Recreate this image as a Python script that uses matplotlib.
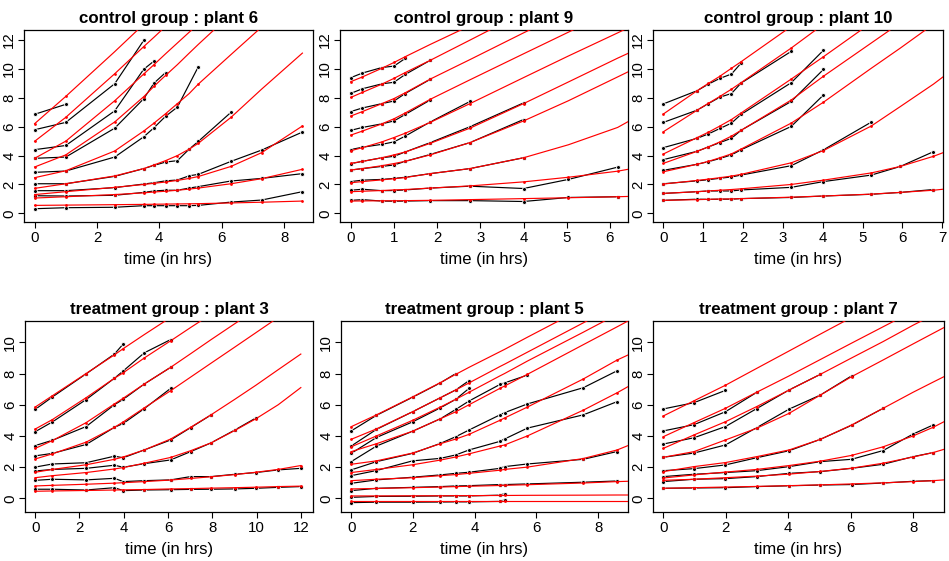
import matplotlib
matplotlib.use("Agg")
import matplotlib.pyplot as plt

plt.rcParams['font.family'] = ['Liberation Sans', 'DejaVu Sans']

# ---------------- control group : plant 6 ----------------
p6_time = [0, 1.0, 2.57, 3.5, 3.83, 4.2, 4.58, 4.96, 5.25, 6.3, 7.28, 8.59]
p6_fit_time = p6_time
p6_obs = [
    [6.86, 7.55],
    [5.79, 6.3, 8.98, 11.98],
    [4.41, 4.7, 7.1, 9.98, 10.55],
    [3.81, 3.9, 5.9, 7.94, 9.02, 9.75],
    [2.84, 2.93, 3.9, 5.3, 5.93, 6.72, 7.36, None, 10.15],
    [2.05, 2.05, 2.56, 3.1, 3.32, 3.55, 3.65, 4.45, 4.98, 7.0],
    [1.57, 1.57, 1.78, 2.03, 2.12, 2.25, 2.31, 2.6, 2.7, 3.6, 4.38, 5.63],
    [1.22, 1.2, 1.25, 1.45, 1.55, 1.6, 1.6, 1.75, 1.85, 2.24, 2.42, 2.75],
    [0.32, 0.39, 0.42, 0.53, 0.53, 0.53, 0.53, 0.53, 0.55, 0.78, 0.92, 1.5],
]
p6_fit = [
    [6.21, 8.1, 11.2, 13.1],
    [4.99, 6.65, 9.67, 11.55, 12.2, 12.95],
    [3.81, 5.0, 7.8, 9.65, 10.3, 11.05, 11.8, 12.55, 13.1],
    [3.21, 4.05, 6.33, 8.08, 8.8, 9.55, 10.3, 11.1, 11.7, 13.8],
    [2.47, 2.95, 4.32, 5.7, 6.25, 6.9, 7.6, 8.3, 8.95, 11.0, 12.9],
    [1.73, 2.05, 2.59, 3.1, 3.35, 3.65, 4.0, 4.45, 4.85, 6.65, 8.6, 11.1],
    [1.3, 1.5, 1.8, 2.0, 2.08, 2.17, 2.28, 2.42, 2.55, 3.25, 4.2, 6.05],
    [1.06, 1.15, 1.3, 1.42, 1.48, 1.53, 1.6, 1.68, 1.75, 2.05, 2.4, 3.05],
    [0.55, 0.57, 0.6, 0.62, 0.63, 0.64, 0.65, 0.66, 0.67, 0.72, 0.77, 0.85],
]

# ---------------- control group : plant 9 ----------------
p9_time = [0, 0.27, 0.72, 1.0, 1.26, 1.84, 2.76, 4.0, 5.04, 6.18]
p9_fit_time = p9_time + [6.42]
p9_obs = [
    [9.4, 9.72, 10.1, 10.2, 10.73],
    [8.31, 8.63, 8.97, 9.08, 9.62, 10.6],
    [7.05, 7.3, 7.6, 7.78, 8.3, 9.28],
    [5.75, 5.95, 6.2, 6.4, 6.85, 7.85],
    [4.42, 4.58, 4.78, 4.95, 5.35, 6.33, 7.75],
    [3.44, 3.6, 3.85, 3.95, 4.25, 4.9, 6.0, 7.65],
    [3.0, 3.1, 3.25, 3.35, 3.6, 4.08, 4.9, 6.5],
    [2.2, 2.3, 2.35, 2.42, 2.5, 2.75, 3.1, 3.85],
    [1.6, 1.67, 1.57, 1.58, 1.62, 1.75, 1.88, 1.72, 2.35, 3.2],
    [0.9, 0.95, 0.85, 0.84, 0.85, 0.88, 0.88, 0.82, 1.1, 1.15],
]
p9_fit = [
    [9.12, 9.45, 10.05, 10.45, 10.85, 11.7, 13.0],
    [8.03, 8.38, 8.95, 9.35, 9.75, 10.6, 12.0, 13.9],
    [6.74, 7.05, 7.6, 7.95, 8.35, 9.3, 10.65, 12.5, 14.0],
    [5.42, 5.7, 6.2, 6.55, 6.95, 7.9, 9.25, 11.05, 12.55, 14.2],
    [4.34, 4.55, 4.95, 5.25, 5.55, 6.3, 7.6, 9.4, 10.9, 12.5, 12.85],
    [3.46, 3.6, 3.85, 4.05, 4.25, 4.85, 5.9, 7.6, 9.1, 10.75, 11.08],
    [3.0, 3.1, 3.3, 3.45, 3.6, 4.05, 4.9, 6.4, 7.8, 9.45, 9.8],
    [2.12, 2.2, 2.32, 2.4, 2.48, 2.75, 3.1, 3.85, 4.75, 5.95, 6.35],
    [1.5, 1.53, 1.58, 1.62, 1.65, 1.75, 1.9, 2.18, 2.5, 2.92, 3.05],
    [0.85, 0.86, 0.87, 0.87, 0.88, 0.9, 0.95, 1.02, 1.08, 1.15, 1.17],
]

# ---------------- control group : plant 10 ----------------
p10_time = [0, 0.85, 1.13, 1.42, 1.71, 1.95, 3.21, 4.02, 5.22, 5.95, 6.78]
p10_fit_time = p10_time + [7.02]
p10_obs = [
    [7.58, 8.5, 8.95, 9.35, 9.65, 10.4],
    [6.3, 7.15, 7.6, 8.05, 8.3, 9.02, 11.22],
    [4.55, 5.2, 5.5, 5.88, 6.25, 6.85, 9.05, 11.3],
    [3.72, 4.3, 4.6, 4.9, 5.2, 5.75, 7.75, 9.97],
    [2.98, 3.4, 3.58, 3.8, 4.05, 4.4, 6.02, 8.2],
    [2.05, 2.25, 2.33, 2.43, 2.52, 2.65, 3.3, 4.4, 6.32],
    [1.38, 1.5, 1.55, 1.55, 1.55, 1.62, 1.8, 2.2, 2.65, 3.25, 4.27],
    [0.9, 0.98, 0.97, 0.98, 0.98, 1.02, 1.1, 1.2, 1.32, 1.45, 1.65],
]
p10_fit = [
    [6.88, 8.5, 9.0, 9.5, 10.05, 10.5, 12.95],
    [5.65, 7.15, 7.62, 8.1, 8.6, 9.05, 11.45, 13.1],
    [4.11, 5.25, 5.62, 6.05, 6.5, 6.95, 9.3, 10.85, 13.2],
    [3.46, 4.3, 4.6, 4.95, 5.35, 5.75, 7.85, 9.5, 11.8, 13.2],
    [2.88, 3.4, 3.6, 3.85, 4.12, 4.45, 6.25, 7.7, 10.05, 11.45, 13.1],
    [2.03, 2.28, 2.37, 2.47, 2.58, 2.7, 3.5, 4.35, 6.05, 7.4, 8.95, 9.45],
    [1.38, 1.5, 1.55, 1.6, 1.65, 1.7, 2.0, 2.3, 2.8, 3.25, 3.95, 4.2],
    [0.9, 0.95, 0.97, 0.99, 1.0, 1.02, 1.12, 1.2, 1.33, 1.45, 1.6, 1.67],
]

# ---------------- treatment group : plant 3 ----------------
p3_time = [0, 0.78, 2.3, 3.58, 3.98, 4.93, 6.12, 7.02, 7.94, 9.02, 9.97, 10.98, 12.0]
p3_fit_time = p3_time
p3_obs = [
    [5.7, 6.5, 7.98, 9.25, 9.9],
    [4.27, 4.9, 6.33, 7.7, 8.17, 9.33, 10.18],
    [3.38, 3.72, 4.6, 6.0, 6.35, 7.33, 8.4],
    [2.72, 2.88, 3.45, 4.55, 4.8, 5.75, 7.05],
    [2.0, 2.2, 2.28, 2.7, 2.6, 3.1, 3.74, 4.53, 5.34],
    [1.75, 1.85, 1.92, 2.12, 1.99, 2.22, 2.46, 2.99, 3.55, 4.38, 5.15],
    [1.15, 1.22, 1.18, 1.28, 1.07, 1.13, 1.18, 1.39, 1.39, 1.54, 1.65, 1.82, 1.92],
    [0.58, 0.58, 0.53, 0.68, 0.49, 0.53, 0.55, 0.57, 0.58, 0.6, 0.64, 0.7, 0.75],
]
p3_fit = [
    [5.85, 6.58, 8.0, 9.2, 9.6, 10.5, 11.6],
    [4.44, 5.05, 6.45, 7.7, 8.05, 9.0, 10.1, 10.95, 11.8],
    [3.2, 3.7, 4.85, 6.05, 6.42, 7.33, 8.4, 9.27, 10.17, 11.2, 12.1],
    [2.52, 2.85, 3.6, 4.55, 4.9, 5.8, 6.9, 7.77, 8.66, 9.7, 10.62, 11.6],
    [1.67, 1.85, 2.15, 2.5, 2.65, 3.1, 3.8, 4.55, 5.35, 6.35, 7.25, 8.25, 9.25],
    [1.32, 1.45, 1.65, 1.88, 1.97, 2.25, 2.62, 3.05, 3.55, 4.35, 5.1, 6.0, 7.1],
    [0.79, 0.83, 0.9, 0.97, 1.0, 1.07, 1.17, 1.27, 1.38, 1.52, 1.67, 1.85, 2.1],
    [0.45, 0.47, 0.5, 0.53, 0.54, 0.56, 0.6, 0.62, 0.65, 0.68, 0.71, 0.75, 0.78],
]

# ---------------- treatment group : plant 5 ----------------
p5_time = [0, 0.82, 1.99, 2.89, 3.39, 3.82, 4.82, 4.97, 5.71, 7.52, 8.62]
p5_fit_time = p5_time + [8.97]
p5_obs = [
    [4.32, 5.32, 6.48, 7.4, 8.0],
    [3.35, 4.42, 5.55, 6.45, 6.95, 7.55],
    [2.88, 3.9, 4.9, 5.8, 6.35, 7.05],
    [2.35, 3.35, 4.3, 5.1, 5.7, 6.24, 7.3, 7.4, 7.9],
    [1.82, 2.35, 2.88, 3.52, 3.95, 4.38, 5.35, 5.49, 6.05, 7.09, 8.18],
    [1.45, 1.78, 2.4, 2.56, 2.78, 3.1, 3.65, 3.8, 4.5, 5.35, 6.2],
    [0.96, 1.18, 1.35, 1.5, 1.6, 1.67, 1.92, 2.03, 2.2, 2.5, 3.0],
    [0.49, 0.64, 0.7, 0.75, 0.79, 0.81, 0.88, 0.88, 0.92, 1.03, 1.11],
    [0.06, 0.12, 0.13, 0.15, 0.15, 0.15, 0.2, 0.3],
    [-0.28, -0.25, -0.25, -0.24, -0.23, -0.23, -0.2, -0.1],
]
p5_fit = [
    [4.59, 5.35, 6.5, 7.42, 7.95, 8.4, 9.4, 9.55, 10.33, 12.2],
    [3.78, 4.45, 5.55, 6.45, 6.95, 7.4, 8.45, 8.6, 9.37, 11.25, 12.4],
    [3.3, 4.0, 5.0, 5.85, 6.35, 6.8, 7.85, 8.0, 8.8, 10.65, 11.8],
    [2.99, 3.5, 4.3, 5.1, 5.55, 6.0, 7.05, 7.2, 7.95, 9.85, 11.0, 11.37],
    [2.18, 2.4, 2.9, 3.5, 3.8, 4.1, 5.0, 5.15, 5.85, 7.65, 8.87, 9.19],
    [1.65, 1.85, 2.15, 2.45, 2.65, 2.85, 3.35, 3.42, 4.0, 5.65, 6.77, 7.16],
    [1.13, 1.22, 1.32, 1.45, 1.52, 1.6, 1.8, 1.85, 2.0, 2.55, 3.1, 3.38],
    [0.6, 0.63, 0.68, 0.72, 0.75, 0.77, 0.82, 0.83, 0.87, 0.98, 1.07, 1.09],
    [0.15, 0.15, 0.16, 0.16, 0.17, 0.17, 0.18, 0.18, 0.19, 0.2, 0.21, 0.21],
    [-0.17, -0.17, -0.17, -0.17, -0.17, -0.17, -0.17, -0.17, -0.17, -0.17, -0.17, -0.17],
]

# ---------------- treatment group : plant 7 ----------------
p7_time = [0, 0.98, 1.99, 2.99, 4.03, 5.03, 6.03, 7.04, 8.0, 8.64]
p7_fit_time = p7_time + [8.99]
p7_obs = [
    [5.73, 6.13, 6.92],
    [4.32, 4.72, 5.55, 6.79],
    [3.48, 3.88, 4.6, 5.75, 6.95, 7.95],
    [2.63, 2.9, 3.42, 4.53, 5.72, 6.62, 7.85],
    [1.77, 1.9, 2.14, 2.6, 3.05, 3.78, 4.68, 5.77],
    [1.39, 1.54, 1.65, 1.77, 2.03, 2.35, 2.5, 3.06, 4.12, 4.7],
    [1.07, 1.22, 1.26, 1.39, 1.6, 1.71, 1.92, 2.18, 2.67, 2.93],
    [0.64, 0.66, 0.68, 0.75, 0.8, 0.85, 0.88, 0.98, 1.09, 1.13],
]
p7_fit = [
    [5.28, 6.25, 7.25, 8.33, 9.45, 10.53, 11.6],
    [3.95, 4.85, 5.77, 6.8, 7.85, 8.9, 9.95, 11.0, 12.0],
    [3.2, 4.06, 4.91, 5.88, 6.94, 7.95, 9.0, 10.05, 11.1, 11.75],
    [2.63, 2.99, 3.74, 4.49, 5.45, 6.62, 7.8, 8.87, 9.9, 10.58, 10.95],
    [1.71, 2.03, 2.29, 2.67, 3.1, 3.78, 4.7, 5.77, 6.8, 7.45, 7.8],
    [1.3, 1.5, 1.68, 1.85, 2.1, 2.38, 2.75, 3.3, 4.0, 4.55, 4.91],
    [1.15, 1.22, 1.32, 1.42, 1.55, 1.72, 1.93, 2.25, 2.65, 2.93, 3.14],
    [0.64, 0.68, 0.72, 0.76, 0.81, 0.86, 0.92, 0.99, 1.07, 1.13, 1.18],
]


def draw_panel(ax, title, time, obs, fit_time, fit, xlim, ylim, xticks, yticks):
    # observed leaf lengths (black)
    for vals in obs:
        pts = [(t, v) for t, v in zip(time, vals) if v is not None]
        tx = [p[0] for p in pts]
        vy = [p[1] for p in pts]
        ax.plot(tx, vy, color='black', lw=0.85, marker='o', ms=2.8,
                mfc='black', mec='white', mew=0.6, zorder=2)
    # fitted curves (red) with dots at the observed times
    for vals, fvals in zip(obs, fit):
        ax.plot(fit_time[:len(fvals)], fvals, color='red', lw=0.85, zorder=3)
        dx = [t for t, v, f in zip(time, vals, fvals) if v is not None]
        dy = [f for t, v, f in zip(time, vals, fvals) if v is not None]
        ax.plot(dx, dy, 'o', color='red', ms=2.0, mew=0, zorder=4)

    ax.set_xlim(*xlim)
    ax.set_ylim(*ylim)
    ax.set_xticks(xticks)
    ax.set_yticks(yticks)
    ax.tick_params(direction='out', length=4, width=0.8, labelsize=10.8,
                   colors='black')
    ax.tick_params(axis='x', pad=2.5)
    ax.tick_params(axis='y', pad=1.5)
    for lab in ax.get_yticklabels():
        lab.set_rotation(90)
        lab.set_va('center')
    for sp in ax.spines.values():
        sp.set_linewidth(0.9)
        sp.set_color('black')
    ax.set_title(title, fontsize=12.2, fontweight='bold', pad=5)
    ax.set_xlabel("time (in hrs)", fontsize=12, labelpad=5)


fig = plt.figure(figsize=(9.49, 5.61), dpi=100)

top_y = (-0.6, 12.7)
bot_y = (-0.88, 11.37)
top_ticks = [0, 2, 4, 6, 8, 10, 12]
bot_ticks = [0, 2, 4, 6, 8, 10]

panels = [
    ([24, 30, 289, 192], "control group : plant 6", p6_time, p6_obs, p6_fit_time, p6_fit,
     (-0.34, 8.93), top_y, [0, 2, 4, 6, 8], top_ticks),
    ([340, 30, 288, 192], "control group : plant 9", p9_time, p9_obs, p9_fit_time, p9_fit,
     (-0.25, 6.42), top_y, [0, 1, 2, 3, 4, 5, 6], top_ticks),
    ([653, 30, 290, 192], "control group : plant 10", p10_time, p10_obs, p10_fit_time, p10_fit,
     (-0.26, 7.02), top_y, [0, 1, 2, 3, 4, 5, 6, 7], top_ticks),
    ([25, 321, 288, 191], "treatment group : plant 3", p3_time, p3_obs, p3_fit_time, p3_fit,
     (-0.46, 12.55), bot_y, [0, 2, 4, 6, 8, 10, 12], bot_ticks),
    ([341, 321, 287, 191], "treatment group : plant 5", p5_time, p5_obs, p5_fit_time, p5_fit,
     (-0.33, 8.97), bot_y, [0, 2, 4, 6, 8], bot_ticks),
    ([653, 321, 291, 191], "treatment group : plant 7", p7_time, p7_obs, p7_fit_time, p7_fit,
     (-0.33, 8.99), bot_y, [0, 2, 4, 6, 8], bot_ticks),
]

W, H = 949.0, 561.0
for box, title, tm, ob, ft, fv, xl, yl, xt, yt in panels:
    x0, y0, w, h = box
    ax = fig.add_axes([x0 / W, 1 - (y0 + h) / H, w / W, h / H])
    draw_panel(ax, title, tm, ob, ft, fv, xl, yl, xt, yt)

fig.savefig("out.png", dpi=100)
